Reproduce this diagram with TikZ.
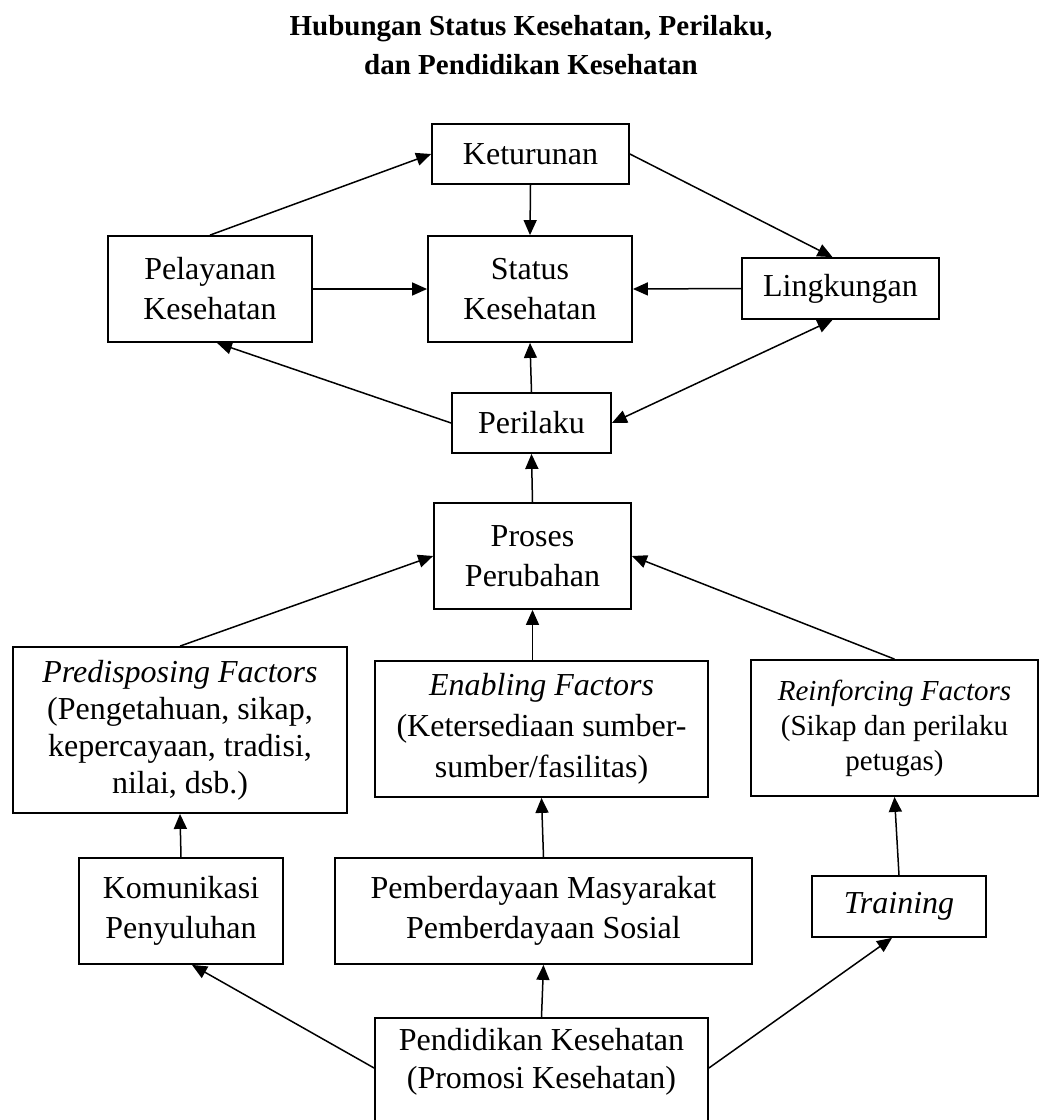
\documentclass[tikz,border=0pt]{standalone}
\usepackage{fontspec}
\setmainfont{Liberation Serif}
\usetikzlibrary{arrows.meta}

\begin{document}
\begin{tikzpicture}[x=1pt, y=-1pt,
    box/.style={draw, line width=1.8pt, align=center, inner sep=0pt, font=\fontsize{32}{40}\selectfont},
    arr/.style={-{Triangle[length=15pt,width=13pt]}, line width=1.5pt},
    dblarr/.style={{Triangle[length=15pt,width=13pt]}-{Triangle[length=15pt,width=13pt]}, line width=1.5pt}]

    \clip (0,0) rectangle (1042,1120);

    % Title
    \node[align=center, font=\bfseries\fontsize{29}{39}\selectfont] (title) at (531,45) {Hubungan Status Kesehatan, Perilaku,\\dan Pendidikan Kesehatan};

    % Top part
    \node[box, minimum width=197, minimum height=60] (ket) at (530.5,154) {Keturunan};
    \node[box, minimum width=204, minimum height=106] (pel) at (210,289) {Pelayanan\\Kesehatan};
    \node[box, minimum width=204, minimum height=106] (stat) at (530,289) {Status\\Kesehatan};
    \node[box, minimum width=197, minimum height=61] (ling) at (840.5,288.5) {Lingkungan};
    \node[box, minimum width=159, minimum height=60] (peri) at (531.5,423) {Perilaku};
    \node[box, minimum width=197, minimum height=106] (pros) at (532.5,556) {Proses\\Perubahan};

    % Factors
    \node[box, minimum width=334, minimum height=166, font=\fontsize{32}{37}\selectfont] (pred) at (180,730) {\textit{Predisposing Factors}\\(Pengetahuan, sikap,\\kepercayaan, tradisi,\\nilai, dsb.)};
    \node[box, minimum width=333, minimum height=136, font=\fontsize{32}{41}\selectfont] (enab) at (541.5,729) {\textit{Enabling Factors}\\(Ketersediaan sumber-\\sumber/fasilitas)};
    \node[box, minimum width=287, minimum height=136, font=\fontsize{29}{35}\selectfont] (reinf) at (894.5,728) {\textit{Reinforcing Factors}\\(Sikap dan perilaku\\petugas)};

    % Methods
    \node[box, minimum width=204, minimum height=106] (kom) at (181,911) {Komunikasi\\Penyuluhan};
    \node[box, minimum width=417, minimum height=106] (pemb) at (543.5,911) {Pemberdayaan Masyarakat\\Pemberdayaan Sosial};
    \node[box, minimum width=174, minimum height=61] (train) at (899,906.5) {\textit{Training}};

    % Pendidikan Kesehatan (box runs off the page)
    \node[box, minimum width=333, minimum height=140, anchor=north] (pend) at (541.5,1017) {};
    \node[align=center, font=\fontsize{32}{38}\selectfont] (pendtext) at (541.5,1062) {Pendidikan Kesehatan\\(Promosi Kesehatan)};
    \coordinate (pendL) at ([yshift=-51pt]pend.north west);
    \coordinate (pendR) at ([yshift=-51pt]pend.north east);

    % Arrows
    \draw[arr] (pel.north) -- (ket.west);
    \draw[arr] (ket.east) -- ([xshift=-8pt]ling.north);
    \draw[arr] (ket.south) -- (stat.north);
    \draw[arr] (pel.east) -- (stat.west);
    \draw[arr] (ling.west) -- (stat.east);
    \draw[arr] (peri.west) -- ([xshift=7pt]pel.south);
    \draw[dblarr] (peri.east) -- ([xshift=-8pt]ling.south);
    \draw[arr] (peri.north) -- (stat.south);
    \draw[arr] (pros.north) -- (peri.south);
    \draw[arr] (pred.north) -- (pros.west);
    \draw[arr] (pros.south |- enab.north) -- (pros.south);
    \draw[arr] (reinf.north) -- (pros.east);
    \draw[arr] (kom.north) -- (pred.south);
    \draw[arr] (pemb.north) -- (enab.south);
    \draw[arr] (train.north) -- (reinf.south);
    \draw[arr] (pendL) -- ([xshift=11pt]kom.south);
    \draw[arr] (pend.north) -- (pemb.south);
    \draw[arr] (pendR) -- ([xshift=-7pt]train.south);

\end{tikzpicture}
\end{document}
